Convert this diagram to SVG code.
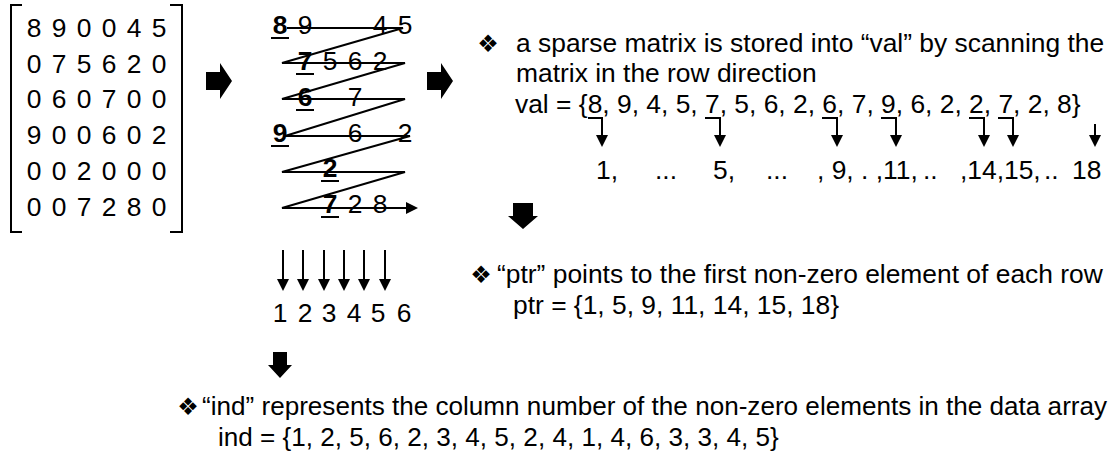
<svg xmlns="http://www.w3.org/2000/svg" width="1116" height="467" viewBox="0 0 1116 467">
<style>
.t{font-family:"Liberation Sans",Arial,sans-serif;font-size:26.4px;fill:#000}
.c{text-anchor:middle}
.b{font-weight:bold}
.bul{font-family:"DejaVu Sans",sans-serif;font-size:24px;fill:#000;text-anchor:middle}
.ln{stroke:#000;stroke-width:2;fill:none}
.blk{fill:#000}
</style>
<defs>
<marker id="ah" markerUnits="userSpaceOnUse" markerWidth="12" markerHeight="12" refX="0" refY="6" orient="auto">
<path d="M0,0 L12,6 L0,12 Z" fill="#000"/>
</marker>
</defs>
<rect width="1116" height="467" fill="#fff"/>

<g id="matrix">
<path class="ln" d="M22,5 H11 V232 H22 M170,5 H182 V232 H170"/>
<text class="t c" x="34 59 84 109 134 159" y="37">890045</text>
<text class="t c" x="34 59 84 109 134 159" y="73">075620</text>
<text class="t c" x="34 59 84 109 134 159" y="108">060700</text>
<text class="t c" x="34 59 84 109 134 159" y="144">900602</text>
<text class="t c" x="34 59 84 109 134 159" y="180">002000</text>
<text class="t c" x="34 59 84 109 134 159" y="216">007280</text>
</g>

<g id="arrow-right-1"><polygon class="blk" points="206,72 220,72 220,63 232,81 220,99 220,90 206,90"/></g>
<g id="arrow-right-2"><polygon class="blk" points="427,72 441,72 441,63 453,81 441,99 441,90 427,90"/></g>

<g id="scan">
<text class="t c b" x="280" y="34">8</text>
<text class="t c" x="305 380 405" y="34">945</text>
<rect x="271" y="37" width="18" height="2"/>
<text class="t c b" x="305" y="70">7</text>
<text class="t c" x="330 355 380" y="70">562</text>
<rect x="296" y="73" width="18" height="2"/>
<text class="t c b" x="305" y="106">6</text>
<text class="t c" x="355" y="106">7</text>
<rect x="296" y="109" width="18" height="2"/>
<text class="t c b" x="280" y="142">9</text>
<text class="t c" x="355 405" y="142">62</text>
<rect x="271" y="145" width="18" height="2"/>
<text class="t c b" x="330" y="177">2</text>
<rect x="321" y="180" width="18" height="2"/>
<text class="t c b" x="330" y="213">7</text>
<text class="t c" x="355 380" y="213">28</text>
<rect x="321" y="216" width="18" height="2"/>
</g>

<g id="columns">
<text class="t c" x="280 305 329 354 378 404" y="322">123456</text>
</g>

<g id="text-val">
<text class="bul" x="488" y="52">❖</text>
<text class="t" x="516" y="52">a sparse matrix is stored into “val” by scanning the</text>
<text class="t" x="516" y="82">matrix in the row direction</text>
<text class="t" x="515" y="113">val = {8, 9, 4, 5, 7, 5, 6, 2, 6, 7, 9, 6, 2, 2, 7, 2, 8}</text>
<text class="t" y="179"><tspan x="596">1,</tspan><tspan x="655">...</tspan><tspan x="713">5,</tspan><tspan x="766">...</tspan><tspan x="817">, 9, . ,11,</tspan><tspan x="923">..</tspan><tspan x="960">,14,15,</tspan><tspan x="1044">..</tspan><tspan x="1072">18</tspan></text>
</g>

<g id="arrow-down-1"><polygon class="blk" points="513,203 533,203 533,216 538,216 523,229 508,216 513,216"/></g>

<g id="text-ptr">
<text class="bul" x="481" y="283">❖</text>
<text class="t" x="497" y="283">“ptr” points to the first non-zero element of each row</text>
<text class="t" x="513" y="314">ptr = {1, 5, 9, 11, 14, 15, 18}</text>
</g>

<g id="arrow-down-2"><polygon class="blk" points="273,352 287,352 287,365 292,365 280,378 268,365 273,365"/></g>

<g id="text-ind">
<text class="bul" x="188" y="415">❖</text>
<text class="t" x="202" y="415" style="font-size:26.1px">“ind” represents the column number of the non-zero elements in the data array</text>
<text class="t" x="218" y="446" style="font-size:26.1px">ind = {1, 2, 5, 6, 2, 3, 4, 5, 2, 4, 1, 4, 6, 3, 3, 4, 5}</text>
</g>

<g id="connectors">
<polyline class="ln" points="287,28 403,28 282,63 405,63 282,99 405,99 285,136 410,136 282,172 405,172 282,208 406,208" marker-end="url(#ah)"/>
<line class="ln" x1="283" y1="250" x2="283" y2="279" marker-end="url(#ah)"/>
<line class="ln" x1="303" y1="250" x2="303" y2="279" marker-end="url(#ah)"/>
<line class="ln" x1="324" y1="250" x2="324" y2="279" marker-end="url(#ah)"/>
<line class="ln" x1="344" y1="250" x2="344" y2="279" marker-end="url(#ah)"/>
<line class="ln" x1="364" y1="250" x2="364" y2="279" marker-end="url(#ah)"/>
<line class="ln" x1="385" y1="250" x2="385" y2="279" marker-end="url(#ah)"/>
<path class="ln" d="M588,118 H602 V135" marker-end="url(#ah)"/>
<path class="ln" d="M705,118 H720 V135" marker-end="url(#ah)"/>
<path class="ln" d="M822,118 H837 V135" marker-end="url(#ah)"/>
<path class="ln" d="M881,118 H896 V135" marker-end="url(#ah)"/>
<path class="ln" d="M969,118 H984 V135" marker-end="url(#ah)"/>
<path class="ln" d="M998,118 H1013 V135" marker-end="url(#ah)"/>
<path class="ln" d="M1095,124 V135" marker-end="url(#ah)"/>
</g>
</svg>
